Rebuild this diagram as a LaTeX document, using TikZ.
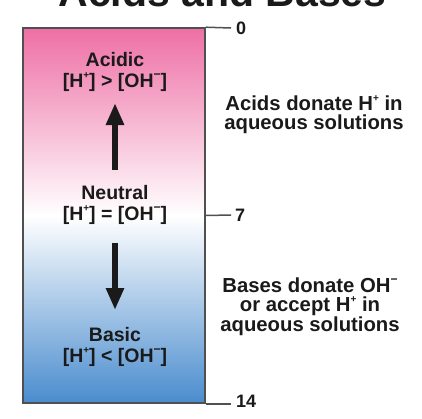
\documentclass[tikz,border=0pt]{standalone}
\usepackage{fontspec}
\setmainfont{Liberation Sans}
\usetikzlibrary{arrows.meta}
\definecolor{pinktop}{HTML}{EE6FA5}
\definecolor{bluebot}{HTML}{4A8CCE}
\definecolor{framegray}{HTML}{505050}
\definecolor{ink}{HTML}{1A1A1A}
\newcommand{\supplus}{\raisebox{0.42em}{\fontsize{10}{10}\selectfont +}}
\newcommand{\supminus}{\raisebox{0.42em}{\fontsize{12}{12}\selectfont −}}
\begin{document}
\begin{tikzpicture}[x=1pt,y=-1pt,
  lbl/.style={font=\bfseries\fontsize{19.5}{21}\selectfont, align=center, inner sep=0pt, text=ink, anchor=base},
  rlbl/.style={font=\bfseries\fontsize{20.3}{19.5}\selectfont, align=center, inner sep=0pt, text=ink, anchor=base},
  num/.style={font=\bfseries\fontsize{18}{20}\selectfont, inner sep=0pt, text=ink, anchor=west},
  tickline/.style={draw=framegray, line width=1.5pt},
  bigarrow/.style={draw=ink, line width=6pt, -{Triangle[width=17pt,length=22pt]}},
  bar/.style={draw=framegray, line width=1.6pt, top color=pinktop, bottom color=bluebot, middle color=white, minimum width=182pt, minimum height=375pt, inner sep=0pt}]
\useasboundingbox (0,0) rectangle (422,418);
\node[font=\bfseries\fontsize{41}{45}\selectfont, inner sep=0pt, anchor=base, text=ink] (title) at (222.5,6) {Acids and Bases};
\node[bar] (bar) at (114,215.5) {};
% scale ticks
\node[num] (n0) at (236,28) {0};
\node[num] (n7) at (235,215) {7};
\node[num] (n14) at (236,401) {14};
\draw[tickline] (bar.north east) -- ([xshift=-5pt]n0.west);
\draw[tickline] (bar.east) -- ([xshift=-4pt]n7.west);
\draw[tickline] (bar.south east) -- ([xshift=-5pt]n14.west |- bar.south east);
% labels inside the bar (anchor base = last line)
\node[lbl] (acidic) at (115,87) {Acidic\\{[H\supplus] > [OH\supminus]}};
\node[lbl] (neutral) at (115,220) {Neutral\\{[H\supplus] = [OH\supminus]}};
\node[lbl] (basic) at (115,362) {Basic\\{[H\supplus] < [OH\supminus]}};
\coordinate (upfrom) at (115,170);
\coordinate (upto) at (115,103);
\coordinate (dnfrom) at (115,243);
\coordinate (dnto) at (115,310);
\draw[bigarrow] (upfrom) -- (upto);
\draw[bigarrow] (dnfrom) -- (dnto);
% side texts
\node[rlbl] (acidtxt) at (314,129.5) {Acids donate H\supplus{} in\\aqueous solutions};
\node[rlbl] (basetxt) at (310,331) {Bases donate OH\supminus\\or accept H\supplus{} in\\aqueous solutions};
\end{tikzpicture}
\end{document}
